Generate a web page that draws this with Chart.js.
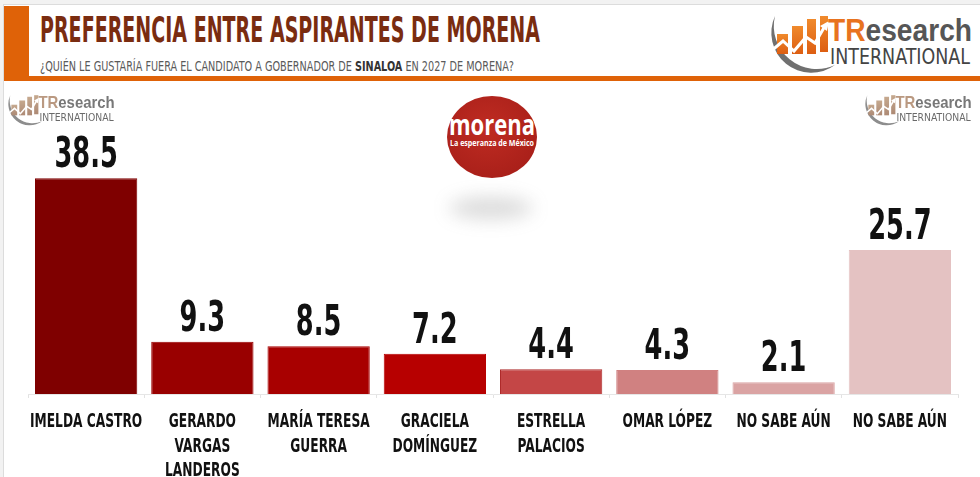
<!DOCTYPE html>
<html lang="es">
<head>
<meta charset="utf-8">
<title>Preferencia entre aspirantes de Morena</title>
<script src="https://cdn.jsdelivr.net/npm/chart.js@4.4.1/dist/chart.umd.min.js"></script>
<style>
html,body{margin:0;padding:0;background:#fff;}
#page{position:relative;width:980px;height:477px;overflow:hidden;background:#fff;}
#fondo{position:absolute;left:0;top:0;}
#grafica{position:absolute;left:0;top:80px;width:980px;height:397px;}
.marca{filter:saturate(0.35) opacity(0.8);}
</style>
</head>
<body>
<div id="page">
<svg id="fondo" width="980" height="477" xmlns="http://www.w3.org/2000/svg">
  <defs>
    <linearGradient id="naranja" x1="0" y1="0" x2="0" y2="1">
      <stop offset="0" stop-color="#f08a2c"/>
      <stop offset="1" stop-color="#dd5e12"/>
    </linearGradient>
    <radialGradient id="rojo" cx="0.45" cy="0.4" r="0.65">
      <stop offset="0" stop-color="#bf2c22"/>
      <stop offset="1" stop-color="#a81f19"/>
    </radialGradient>
    <filter id="difuso" x="-60%" y="-150%" width="220%" height="400%">
      <feGaussianBlur stdDeviation="9"/>
    </filter>
    <g id="logo">
      <path d="M10 6 A40 40 0 0 0 70 55 A43 43 0 0 1 10 6 Z" fill="#707070"/>
      <rect x="12" y="24" width="11" height="20" fill="url(#naranja)"/>
      <rect x="27" y="16" width="11" height="28" fill="url(#naranja)"/>
      <rect x="42" y="9" width="9" height="35" fill="url(#naranja)"/>
      <rect x="55" y="6" width="8" height="36" fill="url(#naranja)"/>
      <polyline points="5,42 18,31 29,41 41,27 50,33 60,16" fill="none" stroke="#fff" stroke-width="3"/>
      <polygon points="55,16 64,11 62,21" fill="#fff"/>
      <text x="63" y="31" font-family="Liberation Sans, Arial, sans-serif" font-weight="bold" font-size="32" textLength="144" lengthAdjust="spacingAndGlyphs"><tspan fill="#e8731f">TR</tspan><tspan fill="#565656">esearch</tspan></text>
      <text x="65" y="54" font-family="DejaVu Sans Condensed, sans-serif" font-size="21" fill="#444" textLength="140" lengthAdjust="spacingAndGlyphs">INTERNATIONAL</text>
    </g>
  </defs>
  <!-- marco -->
  <rect x="0" y="0" width="980" height="477" fill="#f2f2f2"/>
  <rect x="3.5" y="4.5" width="980" height="480" fill="#fff" stroke="#dcdcdc" stroke-width="1"/>
  <!-- encabezado -->
  <rect x="4" y="6" width="25" height="75" fill="#df6208"/>
  <rect x="4" y="76" width="976" height="5" fill="#df6208"/>
  <text x="40" y="42" font-family="DejaVu Sans Condensed, sans-serif" font-weight="bold" font-size="35" fill="#7a2c10" textLength="500" lengthAdjust="spacingAndGlyphs">PREFERENCIA ENTRE ASPIRANTES DE MORENA</text>
  <text x="40" y="71" font-family="DejaVu Sans Condensed, sans-serif" font-size="14" fill="#5a5a5a" textLength="474" lengthAdjust="spacingAndGlyphs">¿QUIÉN LE GUSTARÍA FUERA EL CANDIDATO A GOBERNADOR DE <tspan font-weight="bold" fill="#333">SINALOA</tspan> EN 2027 DE MORENA?</text>
  <use href="#logo" x="765" y="10"/>
  <!-- marcas de agua -->
  <g class="marca" transform="translate(5,92) scale(0.53)"><use href="#logo"/></g>
  <g class="marca" transform="translate(862,92) scale(0.53)"><use href="#logo"/></g>
  <!-- logo morena -->
  <ellipse cx="491" cy="208" rx="42" ry="11" fill="#999" opacity="0.35" filter="url(#difuso)"/>
  <ellipse cx="492" cy="137" rx="45" ry="41" fill="url(#rojo)"/>
  <text x="492" y="135" text-anchor="middle" font-family="Open Sans, DejaVu Sans, sans-serif" font-weight="bold" font-size="29" fill="#fff" textLength="86" lengthAdjust="spacingAndGlyphs">morena</text>
  <text x="492" y="146" text-anchor="middle" font-family="Open Sans, DejaVu Sans, sans-serif" font-weight="bold" font-size="8.5" fill="#fff" textLength="84" lengthAdjust="spacingAndGlyphs">La esperanza de México</text>
</svg>
<div id="grafica"><canvas id="preferencia"></canvas></div>
</div>

<script>
// datos
const aspirantes = [
  ['IMELDA CASTRO'],
  ['GERARDO', 'VARGAS', 'LANDEROS'],
  ['MARÍA TERESA', 'GUERRA'],
  ['GRACIELA', 'DOMÍNGUEZ'],
  ['ESTRELLA', 'PALACIOS'],
  ['OMAR LÓPEZ'],
  ['NO SABE AÚN'],
  ['NO SABE AÚN']
];
const porcentajes = [38.5, 9.3, 8.5, 7.2, 4.4, 4.3, 2.1, 25.7];
const colores = ['#7f0000', '#990000', '#a80000', '#b70000', '#c44646', '#d08181', '#daa3a3', '#e4c2c2'];
const bordes = ['#7f0000', '#990000', '#a80000', '#b70000', '#ad2a2a', '#d08181', '#daa3a3', '#e4c2c2'];

const fuente = '"DejaVu Sans Condensed", sans-serif';

// numeros grandes encima de cada barra
const etiquetasValor = {
  id: 'etiquetasValor',
  afterDatasetsDraw(chart) {
    const ctx = chart.ctx;
    const meta = chart.getDatasetMeta(0);
    ctx.save();
    ctx.font = 'bold 42px ' + fuente;
    ctx.fillStyle = '#111';
    ctx.textAlign = 'center';
    ctx.textBaseline = 'alphabetic';
    meta.data.forEach((barra, i) => {
      ctx.save();
      ctx.translate(barra.x, barra.y - 11);
      ctx.scale(0.68, 1);
      ctx.fillText(porcentajes[i].toFixed(1), 0, 0);
      ctx.restore();
    });
    ctx.restore();
  }
};

// nombres bajo el eje, estrechos como en el original
const etiquetasEje = {
  id: 'etiquetasEje',
  afterDraw(chart) {
    const ctx = chart.ctx;
    const eje = chart.scales.x;
    ctx.save();
    ctx.font = 'bold 20px ' + fuente;
    ctx.fillStyle = '#111';
    ctx.textAlign = 'center';
    ctx.textBaseline = 'alphabetic';
    aspirantes.forEach((lineas, i) => {
      const x = eje.getPixelForValue(i);
      lineas.forEach((txt, j) => {
        ctx.save();
        ctx.translate(x, eje.top + 33 + j * 24.5);
        ctx.scale(0.68, 1);
        ctx.fillText(txt, 0, 0);
        ctx.restore();
      });
    });
    ctx.restore();
  }
};

const lienzo = document.getElementById('preferencia');

if(lienzo){

new Chart(lienzo, {
  type: 'bar',
  data: {
    labels: aspirantes,
    datasets: [{
      data: porcentajes,
      backgroundColor: colores,
      borderColor: bordes,
      borderWidth: 1,
      categoryPercentage: 1,
      barPercentage: 0.88
    }]
  },
  options: {
    responsive: true,
    maintainAspectRatio: false,
    animation: false,
    layout: { padding: { left: 28, right: 22, top: 0, bottom: 0 } },
    plugins: {
      legend: { display: false },
      tooltip: { enabled: false }
    },
    scales: {
      y: { display: false, min: 0, max: 56 },
      x: {
        grid: {
          display: true,
          drawOnChartArea: false,
          drawTicks: true,
          tickLength: 4,
          color: '#e2e2e2',
          offset: true
        },
        border: { display: true, color: '#e6e6e6' },
        ticks: { display: false },
        afterFit(eje) { eje.height = 83; }
      }
    }
  },
  plugins: [etiquetasValor, etiquetasEje]
});

}
</script>
</body>
</html>
